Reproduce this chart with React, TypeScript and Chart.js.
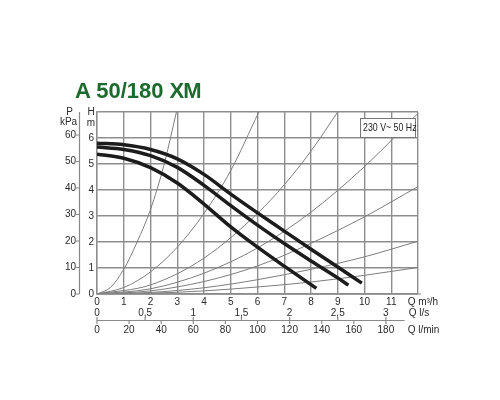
import React, { useEffect, useRef } from "react";
import Chart from "chart.js/auto";

// axis ticks
const headTicks = [0, 1, 2, 3, 4, 5, 6]; // H m
const pressureTicks = [0, 10, 20, 30, 40, 50, 60]; // P kPa
const flowTicks = [0, 1, 2, 3, 4, 5, 6, 7, 8, 9, 10, 11]; // Q m³/h
const lsTicks = [0, 0.5, 1, 1.5, 2, 2.5, 3]; // Q l/s
const lsLabels = ["0", "0,5", "1", "1,5", "2", "2,5", "3"];
const lminTicks = [0, 20, 40, 60, 80, 100, 120, 140, 160, 180]; // Q l/min

// pump curves (Q m³/h, H m)
const speed3Q = [0, 1, 2, 3, 4, 5, 6, 7, 8, 9, 9.9];
const speed3H = [5.8, 5.74, 5.56, 5.2, 4.6, 3.84, 3.12, 2.42, 1.72, 1.04, 0.42];
const speed2Q = [0, 1, 2, 3, 4, 5, 6, 7, 8, 9, 9.4];
const speed2H = [5.65, 5.56, 5.32, 4.87, 4.18, 3.4, 2.65, 1.94, 1.27, 0.62, 0.34];
const speed1Q = [0, 1, 2, 3, 4, 5, 6, 7, 8, 8.2];
const speed1H = [5.38, 5.22, 4.86, 4.27, 3.46, 2.58, 1.8, 1.07, 0.36, 0.22];

// system curves
const sys1Q = [0, 0.5, 1, 1.5, 2, 2.5, 2.97];
const sys1H = [0, 0.25, 0.95, 2.0, 3.25, 4.95, 7];
const sys2Q = [0, 1, 2, 3, 4, 5, 6.05];
const sys2H = [0, 0.25, 0.85, 1.8, 3.1, 4.75, 7];
const sys3Q = [0, 2, 4, 6, 7, 8, 9];
const sys3H = [0, 0.35, 1.38, 3.1, 4.2, 5.5, 7];
const sysQ = [0, 2, 4, 6, 8, 10, 12];
const sys4H = [0, 0.2, 0.8, 1.77, 3.15, 4.9, 6.95];
const sys5H = [0, 0.12, 0.48, 1.08, 1.95, 2.97, 4.13];
const sys6H = [0, 0.06, 0.24, 0.55, 0.95, 1.43, 2.03];
const sys7H = [0, 0.03, 0.12, 0.27, 0.46, 0.72, 1.02];

const FONT = "'Liberation Sans', Arial, sans-serif";

const pts = (q: number[], h: number[]) => q.map((x, i) => ({ x, y: h[i] }));

const pumpLine = (q: number[], h: number[]) => ({
  data: pts(q, h),
  borderColor: "#1c1c1c",
  borderWidth: 3.5,
  borderCapStyle: "butt" as const,
  pointRadius: 0,
  showLine: true,
  cubicInterpolationMode: "monotone" as const,
  order: 0,
});

const sysLine = (q: number[], h: number[]) => ({
  data: pts(q, h),
  borderColor: "#7d7d7d",
  borderWidth: 1,
  pointRadius: 0,
  showLine: true,
  cubicInterpolationMode: "monotone" as const,
  order: 1,
});

const decor = {
  id: "decor",
  afterDatasetsDraw(chart: any) {
    const { ctx, chartArea, scales } = chart;
    const xs = scales.x;
    const ys = scales.y;
    const left = chartArea.left;
    const bottom = chartArea.bottom;
    ctx.save();

    // voltage box
    const bx = chartArea.right - 58;
    const by = chartArea.top + 6;
    ctx.fillStyle = "#fff";
    ctx.fillRect(bx, by, 55, 19);
    ctx.strokeStyle = "#777";
    ctx.lineWidth = 1;
    ctx.strokeRect(bx + 0.5, by + 0.5, 55, 19);
    ctx.fillStyle = "#222";
    ctx.font = `11px ${FONT}`;
    ctx.textBaseline = "middle";
    ctx.textAlign = "left";
    ctx.save();
    ctx.translate(bx + 3, by + 10);
    ctx.scale(0.8, 1);
    ctx.fillText("230 V~ 50 Hz", 0, 0);
    ctx.restore();

    ctx.fillStyle = "#2a2a2a";
    ctx.font = `10px ${FONT}`;

    // H axis
    ctx.textAlign = "right";
    headTicks.forEach((v) => ctx.fillText(String(v), left - 3, ys.getPixelForValue(v)));
    ctx.textAlign = "center";
    ctx.fillText("H", left - 6, ys.getPixelForValue(7));
    ctx.fillText("m", left - 6, ys.getPixelForValue(7) + 11);

    // P kPa axis
    const px = left - 17.5;
    ctx.strokeStyle = "#8a8a8a";
    ctx.lineWidth = 1.2;
    ctx.beginPath();
    ctx.moveTo(px, ys.getPixelForValue(7));
    ctx.lineTo(px, bottom);
    pressureTicks.forEach((v) => {
      const y = ys.getPixelForValue(v / 9.81);
      ctx.moveTo(px, y);
      ctx.lineTo(px - 3.5, y);
    });
    ctx.stroke();
    ctx.textAlign = "right";
    pressureTicks.forEach((v) => ctx.fillText(String(v), px - 3.5, ys.getPixelForValue(v / 9.81)));
    ctx.textAlign = "center";
    ctx.fillText("P", px - 10, ys.getPixelForValue(7));
    ctx.fillText("kPa", px - 11, ys.getPixelForValue(7) + 10);

    // Q m³/h axis
    const labelX = xs.getPixelForValue(11.5) + 3;
    ctx.beginPath();
    ctx.moveTo(left, bottom);
    ctx.lineTo(xs.getPixelForValue(12) + 3, bottom);
    ctx.stroke();
    ctx.textAlign = "center";
    flowTicks.forEach((v) => ctx.fillText(String(v), xs.getPixelForValue(v), bottom + 8));
    ctx.textAlign = "left";
    ctx.fillText("Q m³/h", labelX, bottom + 8);

    // Q l/s and l/min axis
    const ly = bottom + 26.5;
    ctx.beginPath();
    ctx.moveTo(left, ly);
    ctx.lineTo(labelX - 3, ly);
    lsTicks.forEach((v) => {
      const x = xs.getPixelForValue(v * 3.6);
      ctx.moveTo(x, ly);
      ctx.lineTo(x, ly - 3.5);
    });
    lminTicks.forEach((v) => {
      const x = xs.getPixelForValue(v * 0.06);
      ctx.moveTo(x, ly);
      ctx.lineTo(x, ly + 3.5);
    });
    ctx.stroke();
    ctx.textAlign = "center";
    lsTicks.forEach((v, i) => ctx.fillText(lsLabels[i], xs.getPixelForValue(v * 3.6), bottom + 19));
    lminTicks.forEach((v) => ctx.fillText(String(v), xs.getPixelForValue(v * 0.06), bottom + 36));
    ctx.textAlign = "left";
    ctx.fillText("Q l/s", labelX + 1, bottom + 19);
    ctx.fillText("Q l/min", labelX, bottom + 36);

    ctx.restore();
  },
};

const PumpChart = () => {
  const canvasRef = useRef<HTMLCanvasElement | null>(null);

  useEffect(() => {
    const ctx = canvasRef.current?.getContext("2d");
    if (!ctx) return;

    const gridStyle = {
      color: "#8e8e8e",
      lineWidth: 1.4,
      drawTicks: false,
    };

    const chart = new Chart(ctx, {
      type: "scatter",
      data: {
        datasets: [
          pumpLine(speed3Q, speed3H),
          pumpLine(speed2Q, speed2H),
          pumpLine(speed1Q, speed1H),
          sysLine(sys1Q, sys1H),
          sysLine(sys2Q, sys2H),
          sysLine(sys3Q, sys3H),
          sysLine(sysQ, sys4H),
          sysLine(sysQ, sys5H),
          sysLine(sysQ, sys6H),
          sysLine(sysQ, sys7H),
        ],
      },
      options: {
        responsive: false,
        animation: false,
        layout: { padding: { left: 97, right: 82, top: 112, bottom: 106 } },
        plugins: { legend: { display: false }, tooltip: { enabled: false } },
        scales: {
          x: {
            type: "linear",
            min: 0,
            max: 12,
            ticks: { display: false, stepSize: 1 },
            grid: gridStyle,
            border: { color: "#8e8e8e", width: 1.4 },
          },
          y: {
            type: "linear",
            min: 0,
            max: 7,
            ticks: { display: false, stepSize: 1 },
            grid: gridStyle,
            border: { color: "#8e8e8e", width: 1.4 },
          },
        },
      },
      plugins: [decor],
    });

    return () => {
      chart.destroy();
    };
  }, []);

  return <canvas ref={canvasRef} width={500} height={400}></canvas>;
};

export default function App() {
  return (
    <div style={{ position: "fixed", left: 0, top: 0, width: 500, height: 400, background: "#fff" }}>
      <PumpChart />
      <div
        style={{
          position: "absolute",
          left: 75,
          top: 80,
          fontFamily: FONT,
          fontWeight: "bold",
          fontSize: 22,
          lineHeight: "21px",
          color: "#1d6a2e",
          whiteSpace: "nowrap",
        }}
      >
        A 50/180 <span style={{ letterSpacing: -1 }}>XM</span>
      </div>
    </div>
  );
}
